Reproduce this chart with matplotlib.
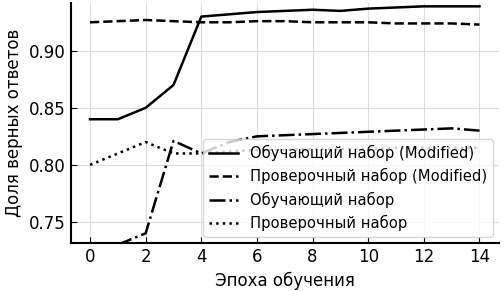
import matplotlib.pyplot as plt
import numpy as np

epochs = list(range(15))

train_mod = [0.840, 0.840, 0.850, 0.870, 0.930, 0.932, 0.934, 0.935, 0.936, 0.935, 0.937, 0.938, 0.939, 0.939, 0.939]
val_mod = [0.925, 0.926, 0.927, 0.926, 0.925, 0.925, 0.926, 0.926, 0.925, 0.925, 0.925, 0.924, 0.924, 0.924, 0.923]
train = [0.730, 0.730, 0.740, 0.821, 0.810, 0.820, 0.825, 0.826, 0.827, 0.828, 0.829, 0.830, 0.831, 0.832, 0.830]
val = [0.800, 0.810, 0.820, 0.810, 0.810, 0.812, 0.813, 0.813, 0.814, 0.814, 0.814, 0.815, 0.815, 0.815, 0.815]

fig, ax = plt.subplots(figsize=(5.04, 2.91), dpi=100)

ax.plot(epochs, train_mod, color='black', linestyle='-', lw=1.8, label='Обучающий набор (Modified)')
ax.plot(epochs, val_mod, color='black', linestyle='--', lw=1.8, label='Проверочный набор (Modified)')
ax.plot(epochs, train, color='black', linestyle='-.', lw=1.8, label='Обучающий набор')
ax.plot(epochs, val, color='black', linestyle=':', lw=1.8, label='Проверочный набор')

ax.set_xlim(-0.7, 14.7)
ax.set_ylim(0.7315, 0.942)
ax.set_xticks(range(0, 15, 2))
ax.set_yticks([0.75, 0.80, 0.85, 0.90])
ax.set_xlabel('Эпоха обучения', fontsize=12)
ax.set_ylabel('Доля верных ответов', fontsize=12)
ax.tick_params(direction='in', labelsize=12, length=4)
ax.grid(True, color='#dddddd', lw=0.8)
for s in ['top', 'right']:
    ax.spines[s].set_visible(False)
for s in ['left', 'bottom']:
    ax.spines[s].set_linewidth(1.5)

ax.legend(loc='lower right', fontsize=10.6, frameon=True, borderaxespad=0.4)

plt.subplots_adjust(left=0.14, right=0.99, top=0.99, bottom=0.165)
plt.savefig('out.png')
